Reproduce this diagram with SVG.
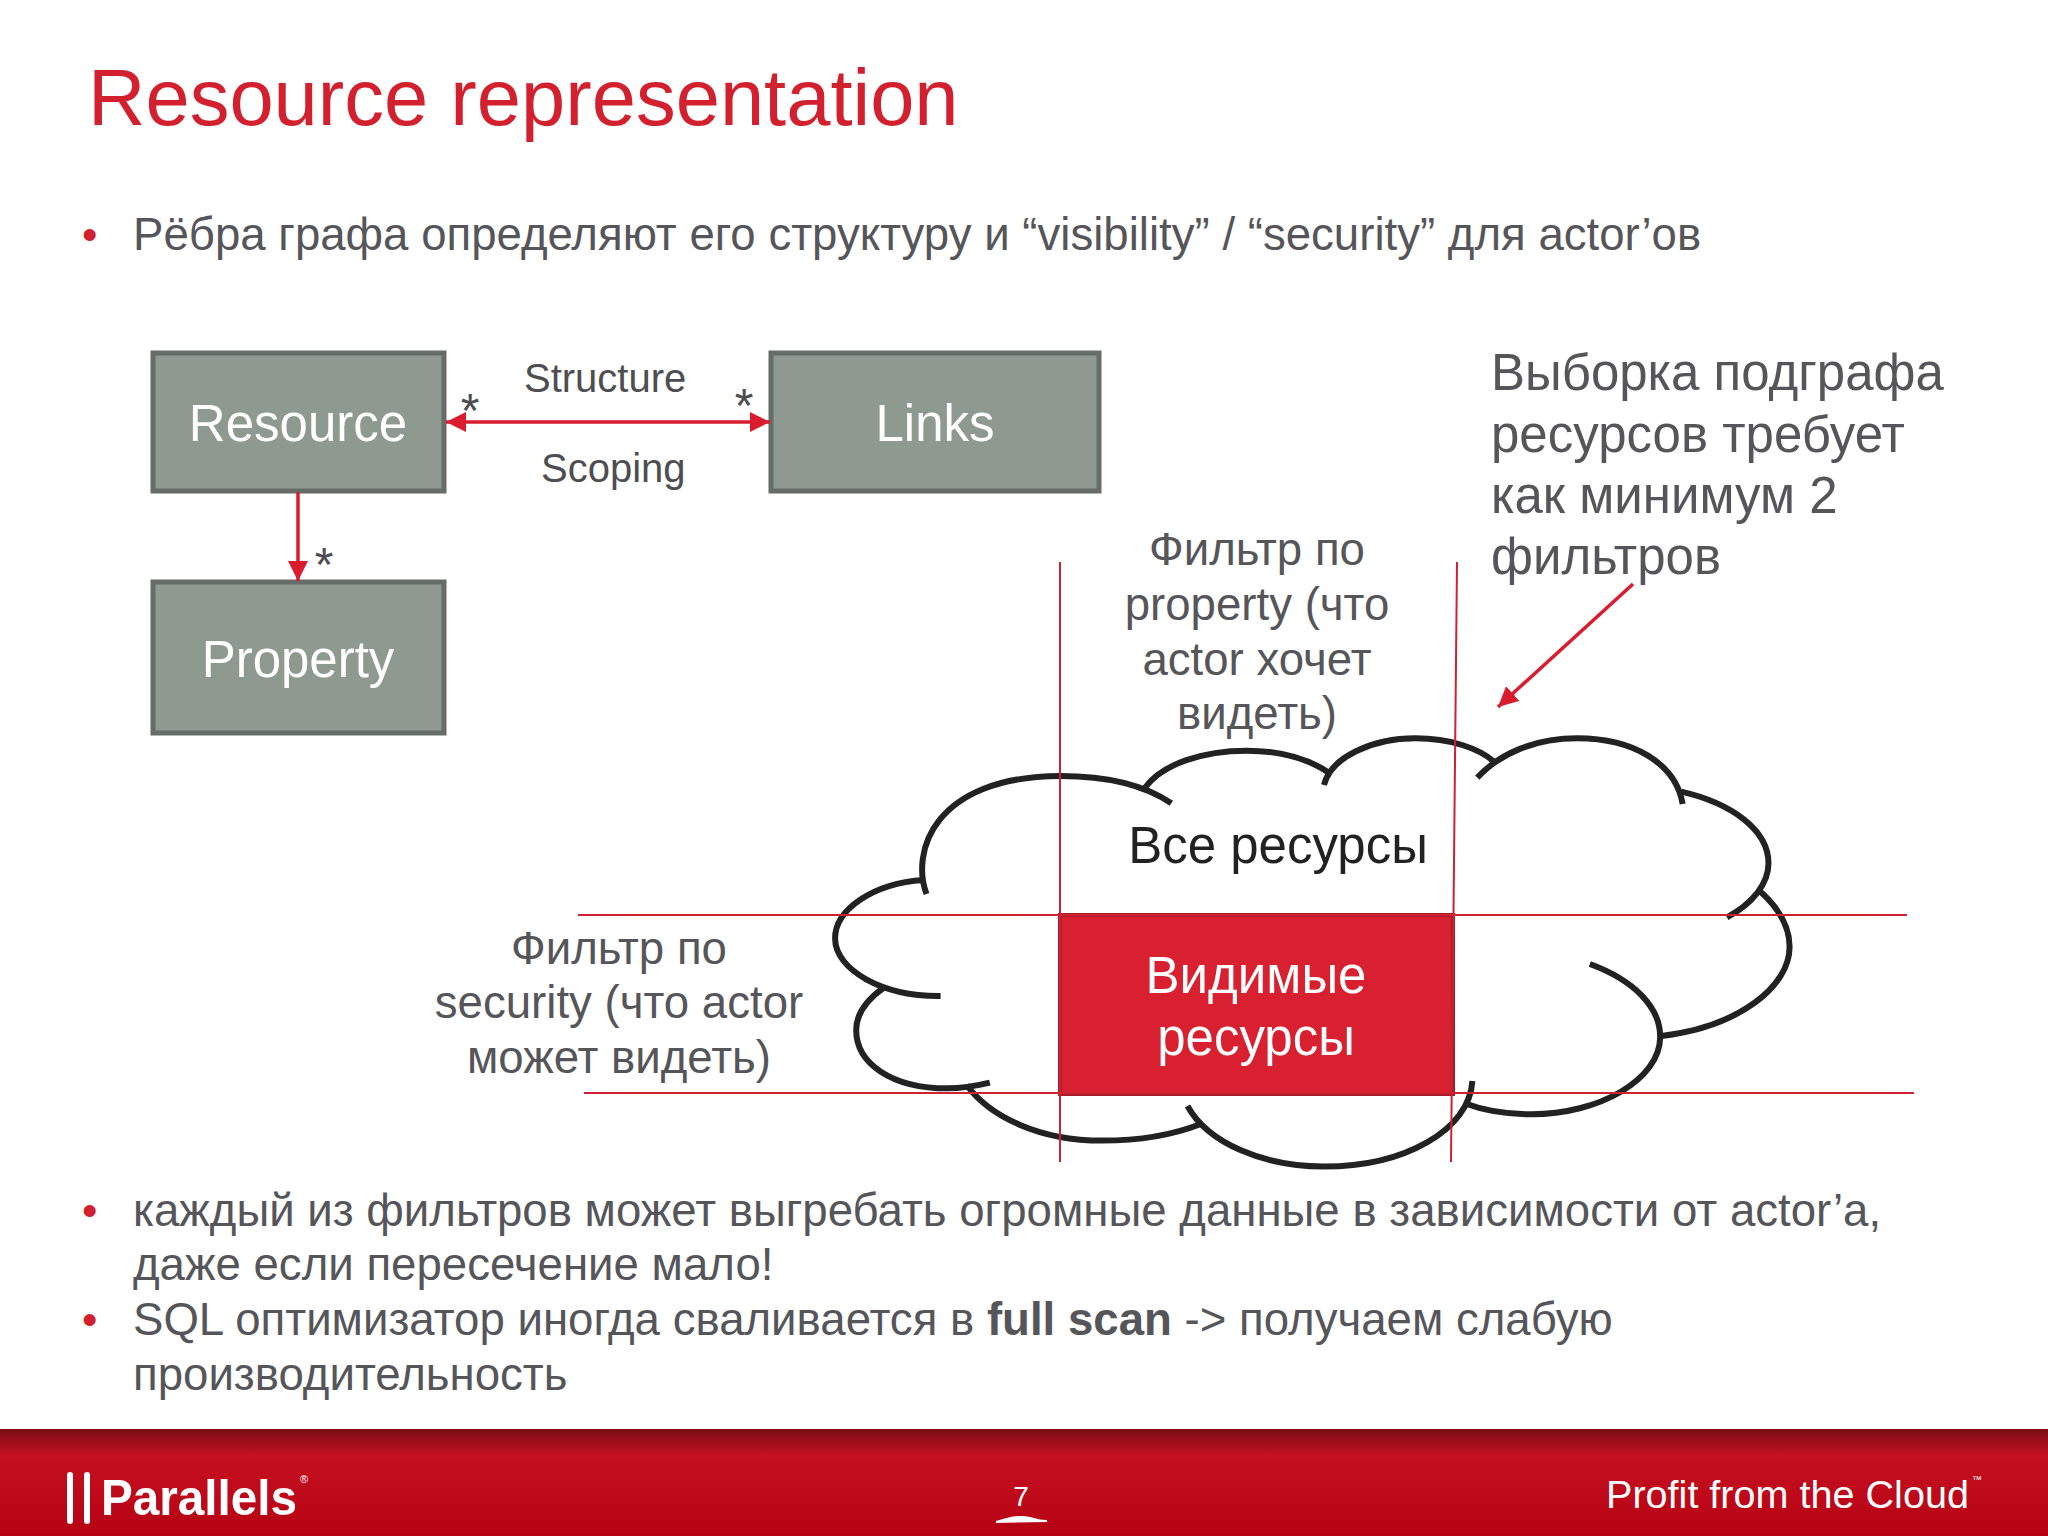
<svg xmlns="http://www.w3.org/2000/svg" width="2048" height="1536" viewBox="0 0 2048 1536">
<style>
text{font-family:"Liberation Sans",Arial,sans-serif}
.b{font-size:45.6px;fill:#55555a}
.m{text-anchor:middle}
.n{font-size:51px;fill:#55555a}
.bullet{fill:#d2202f;font-size:44px}
.box{fill:#8e9a90;stroke:#666c67;stroke-width:5}
.bl{font-size:51px;fill:#fff;text-anchor:middle}
.lb{font-size:40px;fill:#4d4d52}
.st{font-size:48px;fill:#4d4d52;text-anchor:middle}
.conn{stroke:#d91c2e;stroke-width:3.5;fill:none}
.flt{stroke:#cc2233;stroke-width:2;fill:none}
.cl{fill:none;stroke:#222;stroke-width:6;vector-effect:non-scaling-stroke}
</style>
<defs>
<marker id="ah" viewBox="0 0 10 10" refX="10" refY="5" markerWidth="20" markerHeight="20" markerUnits="userSpaceOnUse" orient="auto-start-reverse"><path d="M0,0L10,5L0,10z" fill="#d91c2e"/></marker>
<linearGradient id="ft" x1="0" y1="0" x2="0" y2="1"><stop offset="0" stop-color="#7a0c14"/><stop offset=".13" stop-color="#a20e1a"/><stop offset=".25" stop-color="#c51022"/><stop offset="1" stop-color="#b60212"/></linearGradient>
</defs>
<rect width="2048" height="1536" fill="#fff"/>
<text id="title" x="88" y="125" font-size="79.5" fill="#d2202f">Resource representation</text>
<g id="top-bullet"><text class="bullet" x="82" y="250">•</text><text class="b" x="133" y="250">Рёбра графа определяют его структуру и “visibility” / “security” для actor’ов</text></g>

<g id="cloud" transform="translate(817.5,720) scale(.7034,.3333)">
<path class="cl" d="M155,522C133,400 163,170 345,168C410,168 465,195 503,250"/>
<path class="cl" d="M465,205C490,130 550,92 610,92C660,92 700,120 727,158"/>
<path class="cl" d="M720,195C730,110 790,55 850,55C900,55 940,85 962,125"/>
<path class="cl" d="M938,173C970,100 1020,55 1080,55C1160,55 1220,130 1230,252"/>
<path class="cl" d="M1228,215C1300,250 1352,330 1352,430C1352,490 1330,550 1293,592"/>
<path class="cl" d="M1338,510C1365,560 1382,620 1382,680C1382,800 1310,920 1200,948"/>
<path class="cl" d="M1098,732C1160,780 1198,860 1198,950C1198,1080 1110,1183 1015,1183C980,1183 945,1170 920,1150"/>
<path class="cl" d="M931,1083C927,1230 835,1340 720,1340C635,1340 555,1270 526,1158"/>
<path class="cl" d="M545,1212C505,1245 455,1262 405,1262C315,1262 245,1190 212,1095"/>
<path class="cl" d="M245,1088C225,1098 205,1105 185,1105C105,1105 55,1030 55,930C55,880 73,835 95,802"/>
<path class="cl" d="M175,828C93,830 25,750 25,655C25,570 78,490 151,480"/>
</g>
<text id="all-resources" x="1278" y="863" font-size="51" fill="#222" text-anchor="middle">Все ресурсы</text>

<g id="visible">
<rect x="1060" y="915" width="393" height="179" fill="#d92030" stroke="#a71c28" stroke-width="4"/>
<text x="1256" y="993" font-size="51" fill="#fff" text-anchor="middle">Видимые</text>
<text x="1256" y="1055" font-size="51" fill="#fff" text-anchor="middle">ресурсы</text>
</g>

<g id="filters">
<path class="flt" d="M578,915H1907M584,1093H1914M1060,562V1162M1457,562L1451,1162"/>
</g>

<g id="resource"><rect class="box" x="153" y="353" width="291" height="138"/><text class="bl" x="298" y="441">Resource</text></g>
<g id="links"><rect class="box" x="771" y="353" width="328" height="138"/><text class="bl" x="935" y="441">Links</text></g>
<g id="property"><rect class="box" x="153" y="582" width="291" height="151"/><text class="bl" x="298" y="677">Property</text></g>

<g id="connectors">
<line class="conn" x1="446" y1="422" x2="770" y2="422" marker-start="url(#ah)" marker-end="url(#ah)"/>
<line class="conn" x1="298" y1="492" x2="298" y2="581" marker-end="url(#ah)"/>
<line class="conn" x1="1633" y1="584" x2="1498" y2="707" marker-end="url(#ah)"/>
</g>

<g id="labels">
<text class="lb" x="524" y="392">Structure</text>
<text class="lb" x="541" y="482">Scoping</text>
<text class="st" x="470" y="427">*</text>
<text class="st" x="744" y="422">*</text>
<text class="st" x="324" y="581">*</text>
</g>

<g id="note"><text class="n" x="1491" y="390">Выборка подграфа</text><text class="n" x="1491" y="452">ресурсов требует</text><text class="n" x="1491" y="513">как минимум 2</text><text class="n" x="1491" y="574">фильтров</text></g>
<g id="filter-property">
<text class="b m" x="1257" y="565">Фильтр по</text><text class="b m" x="1257" y="620">property (что</text><text class="b m" x="1257" y="675">actor хочет</text><text class="b m" x="1257" y="729">видеть)</text>
</g>
<g id="filter-security">
<text class="b m" x="619" y="964">Фильтр по</text><text class="b m" x="619" y="1018">security (что actor</text><text class="b m" x="619" y="1073">может видеть)</text>
</g>

<g id="bottom-bullets">
<text class="bullet" x="82" y="1226">•</text>
<text class="b" x="133" y="1226">каждый из фильтров может выгребать огромные данные в зависимости от actor’а,</text>
<text class="b" x="133" y="1280">даже если пересечение мало!</text>
<text class="bullet" x="82" y="1335">•</text>
<text class="b" x="133" y="1335">SQL оптимизатор иногда сваливается в <tspan font-weight="bold">full scan</tspan> -&gt; получаем слабую</text>
<text class="b" x="133" y="1390">производительность</text>
</g>

<g id="footer">
<rect y="1429" width="2048" height="107" fill="url(#ft)"/>
<rect x="67" y="1472" width="6" height="52" rx="3" fill="#fff"/>
<rect x="84" y="1472" width="6" height="52" rx="3" fill="#fff"/>
<text x="101" y="1515" font-size="50" font-weight="bold" fill="#fff" textLength="196" lengthAdjust="spacingAndGlyphs">Parallels</text>
<text x="300" y="1483" font-size="11" fill="#fff">®</text>
<text x="1021" y="1506" font-size="28" fill="#fff" text-anchor="middle">7</text>
<path d="M996,1521C1008,1518 1012,1516 1022,1516C1032,1516 1036,1520 1047,1520L1047,1522L996,1523z" fill="#fff"/>
<text x="1606" y="1508" font-size="39.6" fill="#fff">Profit from the Cloud</text>
<text x="1972" y="1483" font-size="10" fill="#fff">™</text>
</g>
</svg>
